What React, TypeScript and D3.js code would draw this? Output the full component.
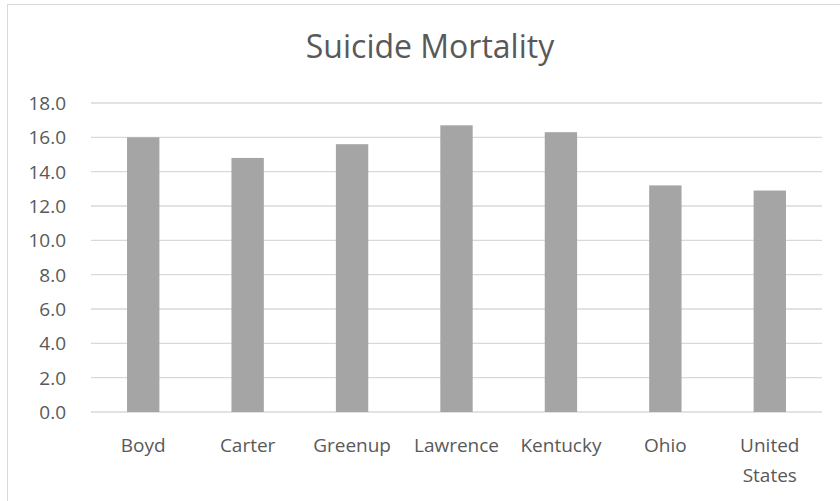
import React, {useEffect, useRef} from "react"
import * as d3 from "d3"

const categories = ["Boyd", "Carter", "Greenup", "Lawrence", "Kentucky", "Ohio", "United States"]
const values = [16.0, 14.8, 15.6, 16.7, 16.3, 13.2, 12.9]
const yTicks = [0, 2, 4, 6, 8, 10, 12, 14, 16, 18]
const title = "Suicide Mortality"

const App = () => {
    const ref = useRef<SVGSVGElement>(null)

    const width = 840
    const height = 501
    const margin = {top: 103, right: 18, bottom: 89, left: 91}

    useEffect(() => {
        const svg = d3.select(ref.current)
        svg.selectAll("*").remove()

        const font = "'Open Sans', sans-serif"
        const textColor = "#595959"

        // chart frame (only top and left edges fall inside the picture)
        svg.append("rect")
            .attr("x", 7.5).attr("y", 4.5)
            .attr("width", width).attr("height", height)
            .attr("fill", "white")
            .attr("stroke", "#d9d9d9")

        const x = d3.scaleBand()
            .domain(categories)
            .range([margin.left, width - margin.right])
            .paddingInner(0.69)
            .paddingOuter(0.345)

        const y = d3.scaleLinear()
            .domain([0, 18])
            .range([height - margin.bottom, margin.top])

        // gridlines
        svg.append("g")
            .selectAll("line")
            .data(yTicks)
            .join("line")
            .attr("x1", margin.left)
            .attr("x2", width - margin.right)
            .attr("y1", d => y(d))
            .attr("y2", d => y(d))
            .attr("stroke", "#d9d9d9")
            .attr("stroke-width", 1.3)

        // y labels
        svg.append("g")
            .selectAll("text")
            .data(yTicks)
            .join("text")
            .attr("x", 66)
            .attr("y", d => y(d))
            .attr("dy", "0.36em")
            .attr("text-anchor", "end")
            .attr("font-family", font)
            .attr("font-size", 19)
            .attr("fill", textColor)
            .text(d => d.toFixed(1))

        // bars
        svg.append("g")
            .selectAll("rect")
            .data(values)
            .join("rect")
            .attr("x", (d, i) => x(categories[i])!)
            .attr("width", x.bandwidth())
            .attr("y", d => y(d))
            .attr("height", d => y(0) - y(d))
            .attr("fill", "#a5a5a5")

        // x labels
        const xl = svg.append("g")
            .selectAll("text")
            .data(categories)
            .join("text")
            .attr("x", d => x(d)! + x.bandwidth() / 2)
            .attr("y", 452)
            .attr("text-anchor", "middle")
            .attr("font-family", font)
            .attr("font-size", 19)
            .attr("fill", textColor)
        xl.each(function (d) {
            const words = d.split(" ")
            const t = d3.select(this)
            const cx = t.attr("x")
            words.forEach((w, i) => {
                t.append("tspan")
                    .attr("x", cx)
                    .attr("dy", i === 0 ? 0 : 30)
                    .text(w)
            })
        })

        // title
        svg.append("text")
            .attr("x", 430)
            .attr("y", 58)
            .attr("text-anchor", "middle")
            .attr("font-family", font)
            .attr("font-size", 32)
            .attr("fill", textColor)
            .text(title)
    })

    return (
        <svg
            ref={ref}
            width={width}
            height={height}
            style={{position: "absolute", left: 0, top: 0, background: "white"}}
        />
    )
}

export default App
